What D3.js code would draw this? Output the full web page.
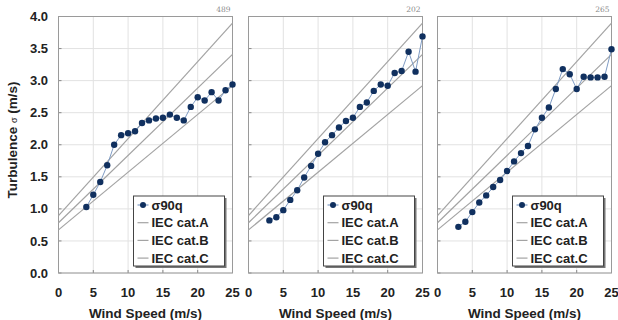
<!DOCTYPE html>
<html><head><meta charset="utf-8">
<script src="https://cdn.jsdelivr.net/npm/d3@7/dist/d3.min.js"></script>
<style>body{margin:0;background:#fff}svg{display:block}</style>
</head><body>
<svg id="c" width="618" height="320"></svg>
<script>
// ---- data ----
const panelLabels = ["489", "202", "265"];
const speeds1 = [4,5,6,7,8,9,10,11,12,13,14,15,16,17,18,19,20,21,22,23,24,25];
const sigma1  = [1.03,1.22,1.42,1.68,2.0,2.15,2.18,2.21,2.34,2.38,2.41,2.42,2.47,2.42,2.38,2.59,2.74,2.69,2.82,2.69,2.85,2.94];
const speeds2 = [3,4,5,6,7,8,9,10,11,12,13,14,15,16,17,18,19,20,21,22,23,24,25];
const sigma2  = [0.82,0.87,0.98,1.14,1.29,1.49,1.67,1.86,2.04,2.15,2.27,2.37,2.42,2.59,2.66,2.84,2.94,2.92,3.12,3.15,3.45,3.14,3.69];
const speeds3 = [3,4,5,6,7,8,9,10,11,12,13,14,15,16,17,18,19,20,21,22,23,24,25];
const sigma3  = [0.72,0.80,0.95,1.10,1.21,1.34,1.45,1.59,1.74,1.87,1.98,2.24,2.42,2.58,2.87,3.18,3.10,2.87,3.06,3.05,3.05,3.06,3.49];
// IEC normal turbulence model: sigma = Iref*(0.75*V + 5.6)
const iecNames = ["IEC cat.A", "IEC cat.B", "IEC cat.C"];
const iecIref  = [0.16, 0.14, 0.12];
const iecV     = [0, 25];
const xTicks = [0,5,10,15,20,25];
const yTicks = [0,0.5,1,1.5,2,2.5,3,3.5,4];
const seriesName = "σ90q";

const panels = [
  {label: panelLabels[0], v: speeds1, s: sigma1},
  {label: panelLabels[1], v: speeds2, s: sigma2},
  {label: panelLabels[2], v: speeds3, s: sigma3}
];

const svg = d3.select("#c");
const font = "'Liberation Sans', Arial, sans-serif";
const lefts = [58.5, 248.5, 437.5];
const pw = 174;
const y = d3.scaleLinear().domain([0,4]).range([273,16.5]);
const markerColor = "#10305f", linkColor = "#7f9cc4", iecColor = "#a3a3a3";

panels.forEach((p, i) => {
  const x = d3.scaleLinear().domain([0,25]).range([lefts[i], lefts[i]+pw]);
  const g = svg.append("g");
  // grid
  g.selectAll(".gx").data(xTicks).join("line")
    .attr("x1", d=>x(d)).attr("x2", d=>x(d)).attr("y1", y(0)).attr("y2", y(4))
    .attr("stroke", "#e2e2e2").attr("stroke-width", 1);
  g.selectAll(".gy").data(yTicks).join("line")
    .attr("x1", x(0)).attr("x2", x(25)).attr("y1", d=>y(d)).attr("y2", d=>y(d))
    .attr("stroke", "#e2e2e2").attr("stroke-width", 1);
  // inner ticks
  g.selectAll(".ty").data(yTicks).join("line")
    .attr("x1", x(0)).attr("x2", x(0)+3).attr("y1", d=>y(d)).attr("y2", d=>y(d))
    .attr("stroke", "#888");
  g.selectAll(".tx").data(xTicks).join("line")
    .attr("x1", d=>x(d)).attr("x2", d=>x(d)).attr("y1", y(0)).attr("y2", y(0)-3)
    .attr("stroke", "#888");
  // frame
  g.append("rect").attr("x", x(0)).attr("y", y(4)).attr("width", x(25)-x(0)).attr("height", y(0)-y(4))
    .attr("fill", "none").attr("stroke", "#9a9a9a").attr("stroke-width", 1);
  // IEC lines
  iecIref.forEach(ir => {
    g.append("line")
      .attr("x1", x(iecV[0])).attr("y1", y(ir*(0.75*iecV[0]+5.6)))
      .attr("x2", x(iecV[1])).attr("y2", y(ir*(0.75*iecV[1]+5.6)))
      .attr("stroke", iecColor).attr("stroke-width", 1.2);
  });
  // series
  const pts = p.v.map((v,k)=>[v, p.s[k]]);
  g.append("path").datum(pts)
    .attr("d", d3.line().x(d=>x(d[0])).y(d=>y(d[1])))
    .attr("fill", "none").attr("stroke", linkColor).attr("stroke-width", 1);
  g.selectAll(".pt").data(pts).join("circle")
    .attr("cx", d=>x(d[0])).attr("cy", d=>y(d[1])).attr("r", 3.2)
    .attr("fill", markerColor);
  // x tick labels
  g.selectAll(".xl").data(xTicks).join("text")
    .attr("x", d=>x(d)).attr("y", 297).attr("text-anchor", "middle")
    .attr("font-family", font).attr("font-weight", "bold").attr("font-size", 13)
    .attr("fill", "#222").text(d=>d);
  // x title
  g.append("text").attr("x", (x(0)+x(25))/2).attr("y", 318).attr("text-anchor", "middle")
    .attr("font-family", font).attr("font-weight", "bold").attr("font-size", 13.5)
    .attr("fill", "#222").text("Wind Speed (m/s)");
  // top-right count label
  g.append("text").attr("x", x(25)-2).attr("y", 12).attr("text-anchor", "end")
    .attr("font-family", "'DejaVu Serif', serif").attr("font-size", 7.5)
    .attr("fill", "#8a8a8a").text(p.label);
  // legend
  const lw = 91, lh = 70;
  const lx = x(25) - 8 - lw, ly = 196;
  g.append("rect").attr("x", lx+2).attr("y", ly+2).attr("width", lw).attr("height", lh).attr("fill", "#777");
  g.append("rect").attr("x", lx).attr("y", ly).attr("width", lw).attr("height", lh)
    .attr("fill", "#fff").attr("stroke", "#444").attr("stroke-width", 1);
  const rows = [seriesName].concat(iecNames);
  rows.forEach((name, k) => {
    const ry = ly + 9 + k*17.7;
    g.append("line").attr("x1", lx+4).attr("x2", lx+15).attr("y1", ry).attr("y2", ry)
      .attr("stroke", k===0 ? linkColor : iecColor).attr("stroke-width", 1.2);
    if (k===0) g.append("circle").attr("cx", lx+9.5).attr("cy", ry).attr("r", 3).attr("fill", markerColor);
    g.append("text").attr("x", lx+18).attr("y", ry+4.6)
      .attr("font-family", font).attr("font-weight", "bold").attr("font-size", 13)
      .attr("fill", "#222").text(name);
  });
});

// y tick labels
svg.selectAll(".yl").data(yTicks).join("text")
  .attr("x", 48).attr("y", d=>y(d)+4.6).attr("text-anchor", "end")
  .attr("font-family", font).attr("font-weight", "bold").attr("font-size", 13)
  .attr("fill", "#222").text(d=>d.toFixed(1));
// y title
const yt = svg.append("text").attr("transform", "translate(17,140) rotate(-90)")
  .attr("text-anchor", "middle").attr("font-family", font).attr("font-weight", "bold")
  .attr("font-size", 13.5).attr("fill", "#222");
yt.append("tspan").text("Turbulence ");
yt.append("tspan").attr("font-size", 9).attr("font-weight", "normal").text("σ");
yt.append("tspan").text(" (m/s)");
</script>
</body></html>
